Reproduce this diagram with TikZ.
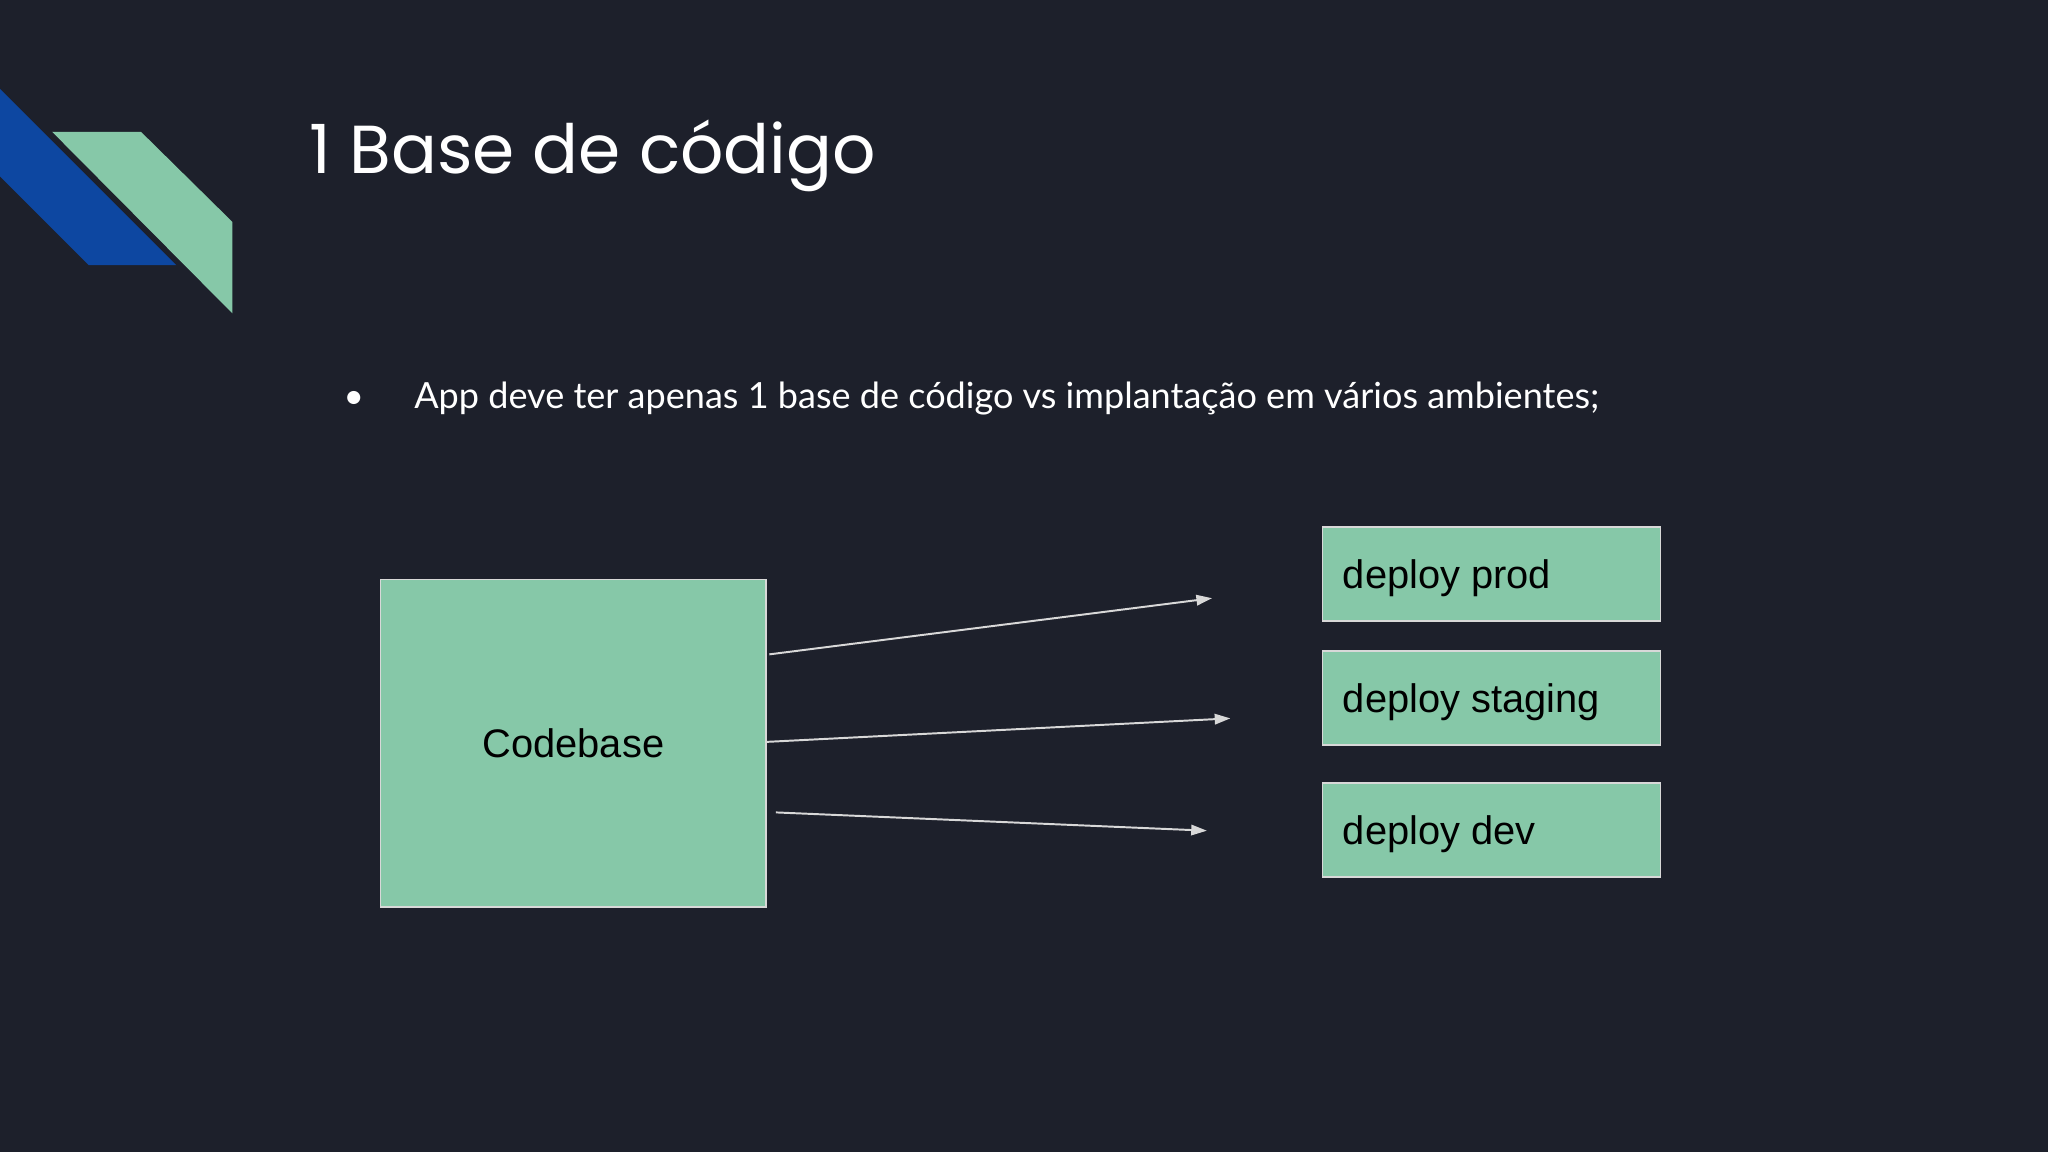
\documentclass[tikz,border=0pt]{standalone}
\usepackage{fontspec}
\setmainfont{Liberation Sans}
\newfontfamily\titlefont{Poppins}
\newfontfamily\bodyfont{Lato}
\usetikzlibrary{arrows.meta}
\definecolor{bg}{HTML}{1D202B}
\definecolor{mint}{HTML}{86C8A8}
\definecolor{deepblue}{HTML}{0D47A1}
\definecolor{edge}{HTML}{D8D8D8}
\tikzset{
  box/.style={draw=edge, line width=1pt, fill=mint, inner sep=0pt},
  boxlabel/.style={font=\fontsize{30.5}{34}\selectfont, text=black},
  conn/.style={draw=edge, line width=1.5pt, -{Triangle[length=12pt,width=8pt]}}
}
\begin{document}
\begin{tikzpicture}[x=1pt,y=-1pt]
\fill[bg] (0,0) rectangle (1568,882);
\useasboundingbox (0,0) rectangle (1568,882);
\fill[deepblue] (0,68) -- (135,203) -- (68,203) -- (0,135) -- cycle;
\fill[mint] (40,101) -- (108,101) -- (178,170) -- (178,240) -- cycle;
\node[anchor=base west, inner sep=0pt, text=white, font=\titlefont\fontsize{52}{60}\selectfont] (title) at (237,133) {1 Base de código};
\node[anchor=base, inner sep=0pt, text=white, font=\bodyfont\fontsize{27}{32}\selectfont] (bullet) at (271,313) {•};
\node[anchor=base west, inner sep=0pt, text=white, font=\bodyfont\fontsize{27.6}{32}\selectfont] (btext) at (317,313) {App deve ter apenas 1 base de código vs implantação em vários ambientes;};
\node[box, minimum width=295pt, minimum height=251pt, anchor=north west] (code) at (291,443) {};
\node[boxlabel] (codelbl) at (code.center) {Codebase};
\foreach \n/\y/\t in {prod/403/deploy prod, staging/498/deploy staging, dev/599/deploy dev}{
  \node[box, minimum width=259pt, minimum height=72pt, anchor=north west] (\n) at (1012,\y) {};
  \node[boxlabel, anchor=west, inner sep=0pt] (\n lbl) at ([xshift=16pt,yshift=-3pt]\n.west) {\t};
}
\coordinate (e1) at (928,458);
\coordinate (e2) at (942,550);
\coordinate (e3) at (924,636);
\draw[conn] ([xshift=2pt,yshift=-3pt]code.east |- 0,498) -- (e1);
\draw[conn] (code.east |- 0,568) -- (e2);
\draw[conn] ([xshift=7pt]code.east |- 0,622) -- (e3);
\end{tikzpicture}
\end{document}
